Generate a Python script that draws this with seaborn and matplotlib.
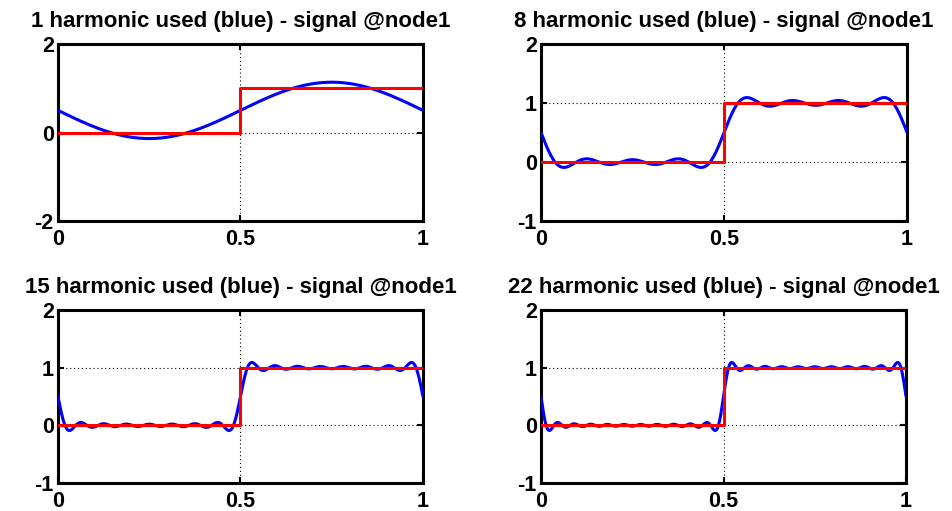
import numpy as np
import pandas as pd
import matplotlib
matplotlib.use("Agg")
import matplotlib.pyplot as plt
import seaborn as sns

# Reference signal at node1: a unit step over one period
step_x = [0.0, 0.5, 0.5, 1.0]
step_y = [0.0, 0.0, 1.0, 1.0]

# Number of harmonics kept in each reconstruction
harmonics = [1, 8, 15, 22]

x_ticks = [0, 0.5, 1]
x_tick_labels = ["0", "0.5", "1"]
y_limits = [(-2, 2), (-1, 2), (-1, 2), (-1, 2)]
y_ticks = [[-2, 0, 2], [-1, 0, 1, 2], [-1, 0, 1, 2], [-1, 0, 1, 2]]

sns.set_theme(style="white")
plt.rcParams["font.family"] = ["Liberation Sans", "DejaVu Sans"]
plt.rcParams["font.weight"] = "bold"


def fourier_coefficients(n_samples=4096):
    """Complex Fourier coefficients of the step signal, from its sampled period."""
    t = np.arange(n_samples) / n_samples
    s = np.interp(t, [0.0, 0.5 - 1e-12, 0.5, 1.0], [0.0, 0.0, 1.0, 1.0])
    s[0] = 0.5 * (step_y[0] + step_y[-1])
    s[n_samples // 2] = 0.5 * (step_y[1] + step_y[2])
    return np.fft.rfft(s) / n_samples


def reconstruct(coeffs, n_harm, x):
    k = np.arange(1, n_harm + 1)
    terms = coeffs[1:n_harm + 1, None] * np.exp(2j * np.pi * k[:, None] * x[None, :])
    return coeffs[0].real + 2 * terms.real.sum(axis=0)


coeffs = fourier_coefficients()
x_fine = np.linspace(0, 1, 600)

fig = plt.figure(figsize=(9.52, 5.11), dpi=100)
fig.patch.set_facecolor("white")

positions = [
    [0.0609, 0.5675, 0.3834, 0.3464],
    [0.5683, 0.5675, 0.3845, 0.3464],
    [0.0609, 0.0548, 0.3834, 0.3386],
    [0.5683, 0.0548, 0.3834, 0.3386],
]

for i, n_harm in enumerate(harmonics):
    ax = fig.add_axes(positions[i])
    recon = pd.DataFrame({"x": x_fine, "y": reconstruct(coeffs, n_harm, x_fine)})
    step = pd.DataFrame({"x": step_x, "y": step_y})

    sns.lineplot(data=recon, x="x", y="y", ax=ax, color=(0, 0, 1), lw=2.2,
                 estimator=None, sort=False, zorder=3)
    sns.lineplot(data=step, x="x", y="y", ax=ax, color=(1, 0, 0), lw=2.2,
                 estimator=None, sort=False, zorder=4)

    ax.set_xlim(0, 1)
    ax.set_ylim(*y_limits[i])
    ax.set_xticks(x_ticks)
    ax.set_xticklabels(x_tick_labels)
    ax.set_yticks(y_ticks[i])
    ax.set_yticklabels([str(v) for v in y_ticks[i]])
    ax.set_xlabel("")
    ax.set_ylabel("")
    ax.grid(True, linestyle=(0, (1, 2.5)), color="black", lw=0.8, zorder=1)
    ax.set_axisbelow(True)
    ax.tick_params(axis="both", direction="in", length=4, width=1.5, color="black",
                   labelsize=15.5, bottom=True, left=True, top=True, right=True,
                   labelcolor="black")
    ax.tick_params(axis="x", pad=6)
    ax.tick_params(axis="y", pad=3)
    for lbl in ax.get_xticklabels() + ax.get_yticklabels():
        lbl.set_fontweight("bold")
    for sp in ax.spines.values():
        sp.set_visible(True)
        sp.set_color("black")
        sp.set_linewidth(2.2)
    ax.set_facecolor("white")
    ax.set_title(f"{n_harm} harmonic used (blue) - signal @node1",
                 fontsize=16, fontweight="bold", color="black", pad=12)

fig.savefig("out.png", dpi=100, facecolor="white")
